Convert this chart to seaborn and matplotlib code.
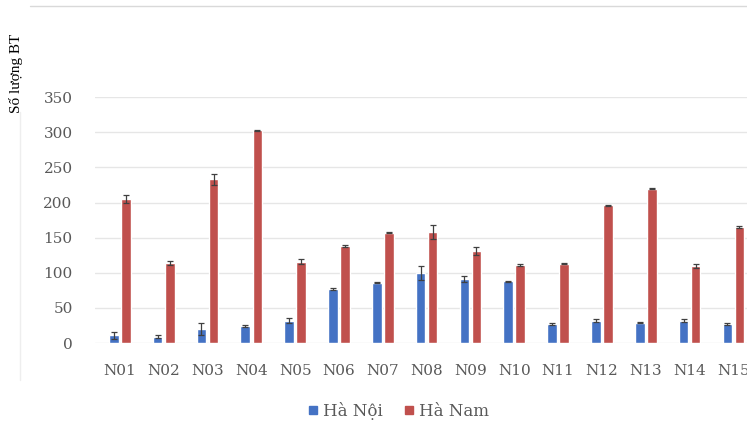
import matplotlib
matplotlib.use('Agg')
import matplotlib.pyplot as plt
import seaborn as sns
import pandas as pd
import numpy as np

# ── Data ─────────────────────────────────────────────
samples = ['N01', 'N02', 'N03', 'N04', 'N05', 'N06', 'N07', 'N08',
           'N09', 'N10', 'N11', 'N12', 'N13', 'N14', 'N15']
ha_noi = [11, 9, 20, 24, 32, 77, 86, 100, 91, 88, 27, 32, 29, 32, 27]
ha_noi_err = [5, 2, 8, 1, 4, 1, 1, 10, 4, 1, 1, 2, 1, 2, 1]
ha_nam = [205, 114, 233, 303, 116, 138, 157, 158, 131, 111, 113, 196, 220, 110, 165]
ha_nam_err = [6, 3, 8, 1, 3, 1, 1, 10, 5, 1, 1, 1, 1, 3, 1]
groups = ['Hà Nội', 'Hà Nam']

df = pd.DataFrame({
    'sample': samples * 2,
    'value': ha_noi + ha_nam,
    'err': ha_noi_err + ha_nam_err,
    'group': [groups[0]] * len(samples) + [groups[1]] * len(samples),
})

sns.set_theme(style='white')
plt.rcParams['font.family'] = ['DejaVu Serif']

palette = {'Hà Nội': '#4472C4', 'Hà Nam': '#C0504D'}

fig = plt.figure(figsize=(7.47, 4.32), dpi=100)
ax = fig.add_axes([0.127, 0.206, 0.873, 0.569])

sns.barplot(data=df, x='sample', y='value', hue='group', palette=palette,
            width=0.55, gap=0.2, errorbar=None, ax=ax, legend=False,
            saturation=1, zorder=3)

# error bars on each bar centre
for cont, g in zip(ax.containers, groups):
    sub = df[df['group'] == g]
    xs = [p.get_x() + p.get_width() / 2 for p in cont.patches]
    ax.errorbar(xs, sub['value'], yerr=sub['err'], fmt='none',
                ecolor='#404040', elinewidth=0.9, capsize=2.5, capthick=0.9,
                zorder=4)

ax.set_xlim(-0.57, 14.31)
ax.set_ylim(0, 350)
ax.set_yticks(range(0, 351, 50))
ax.yaxis.grid(True, color='#e6e6e6', linewidth=1)
ax.set_axisbelow(True)
for s in ax.spines.values():
    s.set_visible(False)
ax.set_xlabel('')
ax.set_ylabel('')
ax.tick_params(axis='both', length=0, labelsize=11, labelcolor='#595959')
ax.tick_params(axis='x', pad=15)
ax.tick_params(axis='y', pad=16)

# frame lines of the original chart area
fig.add_artist(plt.Line2D([0.04, 1.0], [0.985, 0.985], color='#d9d9d9',
                          linewidth=1, transform=fig.transFigure))
fig.add_artist(plt.Line2D([0.027, 0.027], [0.12, 0.74], color='#eeeeee',
                          linewidth=1, transform=fig.transFigure))

fig.text(0.022, 0.83, 'Số lượng BT', rotation=90, ha='center', va='center',
         fontsize=11, color='black', family=['Liberation Serif'])

handles = [plt.Line2D([], [], marker='s', linestyle='none', markersize=6,
                      color=palette[g]) for g in groups]
fig.legend(handles, groups, loc='center', bbox_to_anchor=(0.53, 0.048),
           ncol=2, frameon=False, fontsize=12, handletextpad=0.0,
           handlelength=1.2, columnspacing=1.0, labelcolor='#595959')

plt.savefig('out.png', dpi=100)
plt.close()
